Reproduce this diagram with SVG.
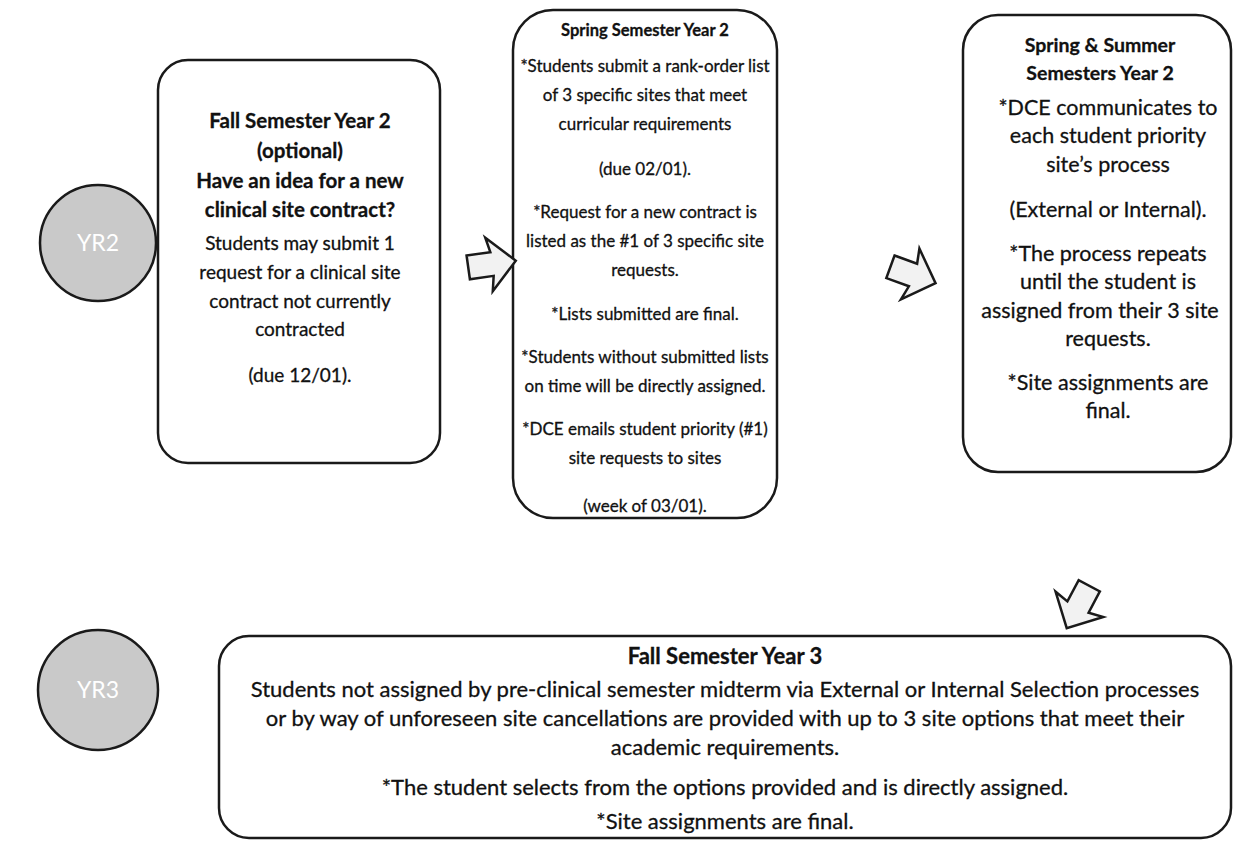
<svg xmlns="http://www.w3.org/2000/svg" width="1236" height="842" viewBox="0 0 1236 842">
<style>
.box{fill:#fff;stroke:#1a1a1a;stroke-width:2.5}
.yr{fill:#c9c9c9;stroke:#1a1a1a;stroke-width:2.5}
.yt{font-family:Lato,"Open Sans",sans-serif;font-size:23px;fill:#fff;text-anchor:middle}
.t{font-family:Lato,"Open Sans",sans-serif;fill:#111;text-anchor:middle;stroke:#111;stroke-width:0.3}
.b{font-weight:bold}
.f2{font-size:19px}
.f2b{font-size:20.5px}
.s2{font-size:17px}
.s2b{font-size:16.5px}
.ss{font-size:21.5px}
.ssb{font-size:19.5px}
.f3{font-size:22px}
.arr{fill:#f2f2f2;stroke:#1a1a1a;stroke-width:2.5;stroke-linejoin:miter}
</style>
<defs>
<path id="blk" d="M-24,-12 L0,-12 L-3,-27 L24,0 L-3,27 L0,12 L-24,12 Z"/>
</defs>
<rect width="1236" height="842" fill="#fff"/>
<g id="yr2"><circle class="yr" cx="98" cy="243" r="58"/><text class="yt" x="98" y="251">YR2</text></g>
<g id="yr3"><circle class="yr" cx="98" cy="690" r="60"/><text class="yt" x="98" y="698">YR3</text></g>
<g id="fall2">
<rect class="box" x="158" y="60" width="282" height="403" rx="30"/>
<text class="t b f2b" x="300" y="128">Fall Semester Year 2</text>
<text class="t b f2b" x="300" y="158">(optional)</text>
<text class="t b f2b" x="300" y="188">Have an idea for a new</text>
<text class="t b f2b" x="300" y="217">clinical site contract?</text>
<text class="t f2" x="300" y="250">Students may submit 1</text>
<text class="t f2" x="300" y="279">request for a clinical site</text>
<text class="t f2" x="300" y="308">contract not currently</text>
<text class="t f2" x="300" y="336">contracted</text>
<text class="t f2" x="300" y="382">(due 12/01).</text>
</g>
<g id="spring2">
<rect class="box" x="513" y="10" width="264" height="508" rx="40"/>
<text class="t b s2b" x="645" y="36">Spring Semester Year 2</text>
<text class="t s2" x="645" y="72">*Students submit a rank-order list</text>
<text class="t s2" x="645" y="101">of 3 specific sites that meet</text>
<text class="t s2" x="645" y="130">curricular requirements</text>
<text class="t s2" x="645" y="175">(due 02/01).</text>
<text class="t s2" x="645" y="218">*Request for a new contract is</text>
<text class="t s2" x="645" y="247">listed as the #1 of 3 specific site</text>
<text class="t s2" x="645" y="276">requests.</text>
<text class="t s2" x="645" y="320">*Lists submitted are final.</text>
<text class="t s2" x="645" y="363">*Students without submitted lists</text>
<text class="t s2" x="645" y="392">on time will be directly assigned.</text>
<text class="t s2" x="645" y="435">*DCE emails student priority (#1)</text>
<text class="t s2" x="645" y="464">site requests to sites</text>
<text class="t s2" x="645" y="512">(week of 03/01).</text>
</g>
<g id="springsummer2">
<rect class="box" x="963" y="15" width="268" height="457" rx="35"/>
<text class="t b ssb" x="1100" y="52">Spring &amp; Summer</text>
<text class="t b ssb" x="1100" y="80">Semesters Year 2</text>
<text class="t ss" x="1108" y="115">*DCE communicates to</text>
<text class="t ss" x="1108" y="143">each student priority</text>
<text class="t ss" x="1108" y="172">site’s process</text>
<text class="t ss" x="1108" y="217">(External or Internal).</text>
<text class="t ss" x="1108" y="261">*The process repeats</text>
<text class="t ss" x="1108" y="289">until the student is</text>
<text class="t ss" x="1100" y="318">assigned from their 3 site</text>
<text class="t ss" x="1108" y="346">requests.</text>
<text class="t ss" x="1108" y="390">*Site assignments are</text>
<text class="t ss" x="1108" y="418">final.</text>
</g>
<g id="fall3">
<rect class="box" x="219" y="636" width="1012" height="202" rx="30"/>
<text class="t b f3" x="725" y="664">Fall Semester Year 3</text>
<text class="t f3" x="725" y="697">Students not assigned by pre-clinical semester midterm via External or Internal Selection processes</text>
<text class="t f3" x="725" y="726">or by way of unforeseen site cancellations are provided with up to 3 site options that meet their</text>
<text class="t f3" x="725" y="755">academic requirements.</text>
<text class="t f3" x="725" y="795">*The student selects from the options provided and is directly assigned.</text>
<text class="t f3" x="725" y="829">*Site assignments are final.</text>
</g>
<g id="connectors">
<use href="#blk" class="arr" transform="translate(492,264) rotate(-8)"/>
<use href="#blk" class="arr" transform="translate(913,275) rotate(20)"/>
<use href="#blk" class="arr" transform="translate(1078,607) rotate(118)"/>
</g>
</svg>
